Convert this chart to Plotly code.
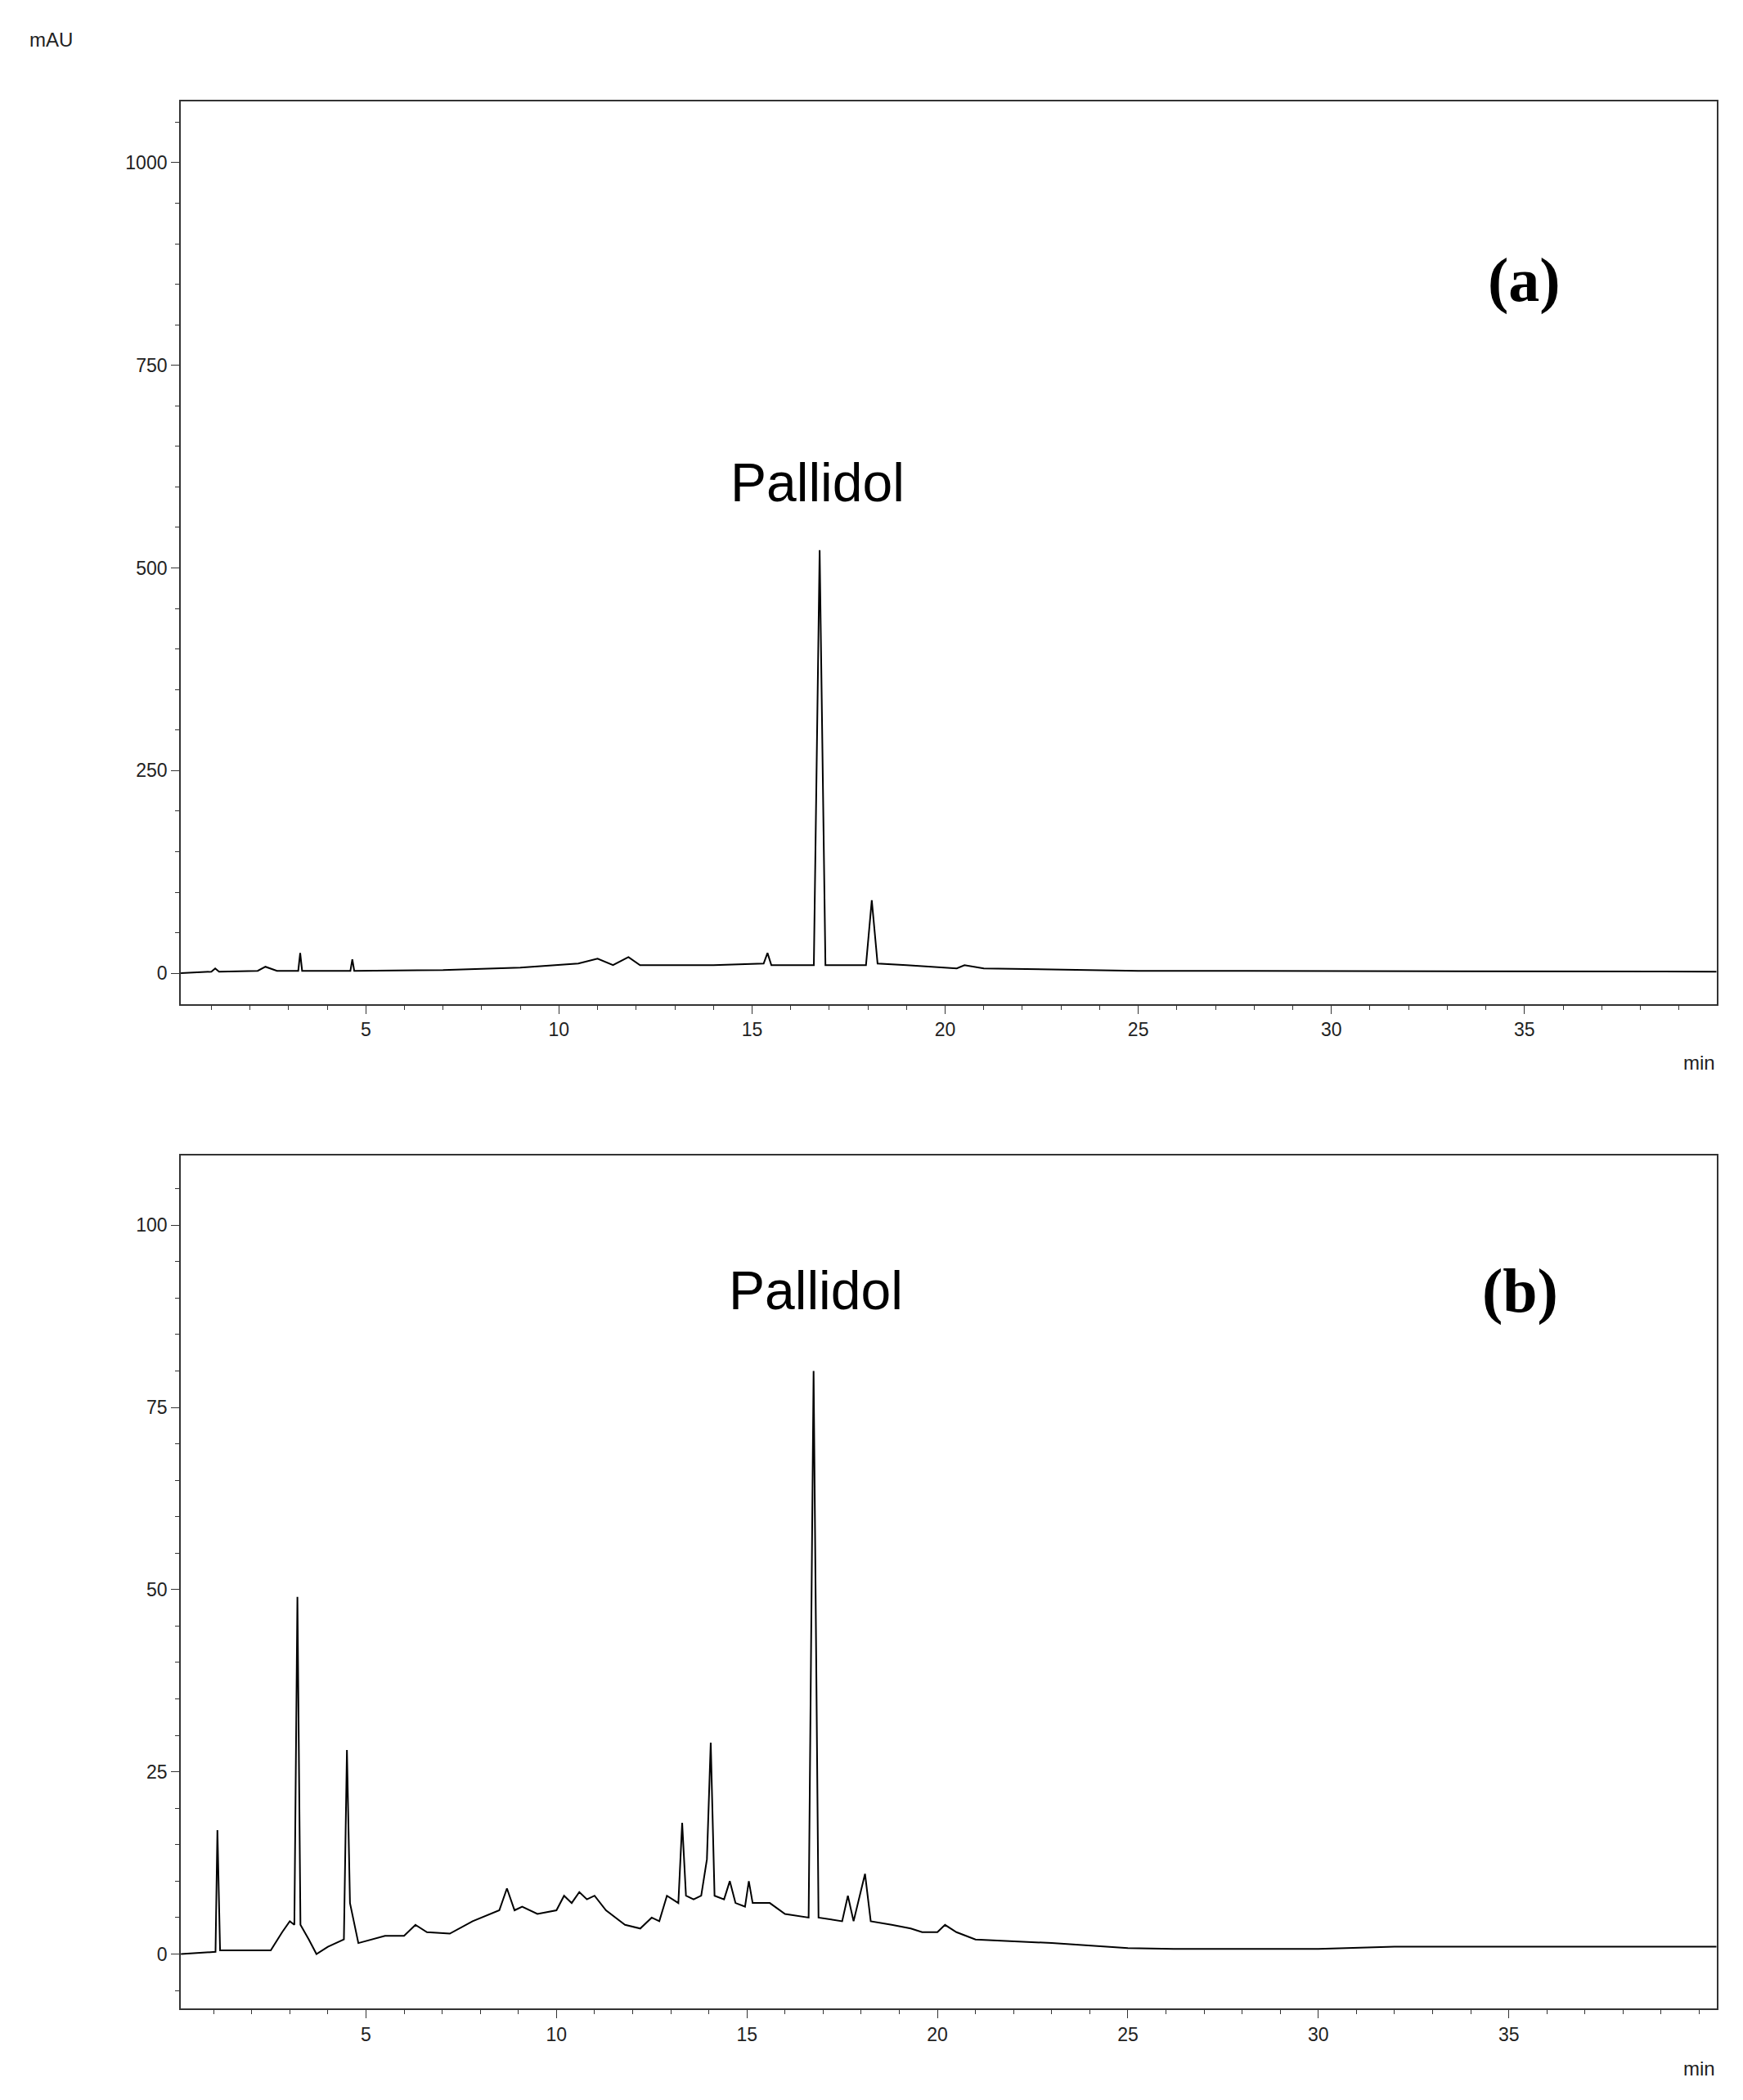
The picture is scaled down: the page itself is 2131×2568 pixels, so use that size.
import plotly.graph_objects as go

# panel (a): retention time (min) and absorbance (mAU)
time_a = [0.2, 1.0, 1.1, 1.2, 2.2, 2.4, 2.7, 3.25, 3.3, 3.35, 4.6, 4.65, 4.7, 7.0, 9.0,
          10.5, 11.0, 11.4, 11.8, 12.1, 14.0, 15.3, 15.4, 15.5, 16.6, 16.75, 16.9,
          17.95, 18.1, 18.25, 19.0, 20.3, 20.5, 21.0, 25.0, 40.0]
mau_a = [0, 2, 6, 2, 3, 8, 3, 3, 25, 3, 3, 17, 3, 4, 7,
         12, 18, 10, 20, 10, 10, 12, 25, 10, 10, 522, 10,
         10, 90, 12, 10, 6, 10, 6, 3, 2]

# panel (b)
time_b = [0.14, 1.05, 1.1, 1.17, 2.5, 2.8, 3.0, 3.12, 3.2, 3.28, 3.5, 3.7, 4.0, 4.42, 4.5,
          4.58, 4.8, 5.5, 6.0, 6.3, 6.6, 7.2, 7.8, 8.5, 8.7, 8.9, 9.1, 9.5, 10.0, 10.2,
          10.4, 10.6, 10.8, 11.0, 11.3, 11.8, 12.2, 12.5, 12.7, 12.9, 13.2, 13.3, 13.4,
          13.6, 13.8, 13.95, 14.05, 14.15, 14.4, 14.55, 14.7, 14.95, 15.05, 15.15, 15.6,
          16.0, 16.62, 16.75, 16.88, 17.5, 17.65, 17.8, 18.1, 18.25, 18.8, 19.3, 19.6,
          20.0, 20.2, 20.5, 21.0, 23.0, 25.0, 26.2, 30.0, 32.0, 35.7, 40.5]
mau_b = [0, 0.3, 17, 0.5, 0.5, 3, 4.5, 4, 49, 4, 2, 0, 1, 2, 28,
         7, 1.5, 2.5, 2.5, 4, 3, 2.8, 4.5, 6, 9, 6, 6.5, 5.5, 6, 8,
         7, 8.5, 7.5, 8, 6, 4, 3.5, 5, 4.5, 8, 7, 18, 8,
         7.5, 8, 13, 29, 8, 7.5, 10, 7, 6.5, 10, 7, 7,
         5.5, 5, 80, 5, 4.5, 8, 4.5, 11, 4.5, 4, 3.5, 3,
         3, 4, 3, 2, 1.5, 0.8, 0.7, 0.7, 1, 1, 1]

x_ticks = [5, 10, 15, 20, 25, 30, 35]

fig = go.Figure()
fig.add_trace(go.Scatter(x=time_a, y=mau_a, mode="lines", line=dict(color="black", width=2),
                         xaxis="x", yaxis="y", showlegend=False))
fig.add_trace(go.Scatter(x=time_b, y=mau_b, mode="lines", line=dict(color="black", width=2),
                         xaxis="x2", yaxis="y2", showlegend=False))

tickfont = dict(family="Liberation Sans", size=23, color="#222")
common = dict(showline=True, linecolor="#333", linewidth=2, mirror=True, showgrid=False,
              zeroline=False, ticks="outside", ticklen=10, tickcolor="#333", tickfont=tickfont)

fig.update_layout(
    width=2131, height=2568, paper_bgcolor="white", plot_bgcolor="white",
    margin=dict(l=0, r=0, t=0, b=0),
    xaxis=dict(domain=[0.1, 0.981], range=[0.21, 39.97], tickvals=x_ticks, anchor="y",
               minor=dict(dtick=1, ticks="outside", ticklen=5, tickcolor="#333"), **common),
    yaxis=dict(domain=[0.525, 0.955], range=[-38, 1076], dtick=250, anchor="x",
               minor=dict(dtick=50, ticks="outside", ticklen=5, tickcolor="#333"), **common),
    xaxis2=dict(domain=[0.1, 0.981], range=[0.14, 40.45], tickvals=x_ticks, anchor="y2",
                minor=dict(dtick=1, ticks="outside", ticklen=5, tickcolor="#333"), **common),
    yaxis2=dict(domain=[0.0466, 0.453], range=[-7.5, 109.6], dtick=25, anchor="x2",
                minor=dict(dtick=5, ticks="outside", ticklen=5, tickcolor="#333"), **common),
)

small = dict(family="Liberation Sans", size=24, color="#222")
fig.add_annotation(x=0.012, y=0.978, xref="paper", yref="paper", text="mAU", showarrow=False,
                   xanchor="left", yanchor="bottom", font=small)
fig.add_annotation(x=0.981, y=0.497, xref="paper", yref="paper", text="min", showarrow=False,
                   xanchor="right", yanchor="middle", font=small)
fig.add_annotation(x=0.981, y=0.018, xref="paper", yref="paper", text="min", showarrow=False,
                   xanchor="right", yanchor="middle", font=small)

big = dict(family="Liberation Sans", size=66, color="black")
fig.add_annotation(x=16.7, y=605, xref="x", yref="y", text="Pallidol", showarrow=False, font=big)
fig.add_annotation(x=16.8, y=91, xref="x2", yref="y2", text="Pallidol", showarrow=False, font=big)

lab = dict(family="Liberation Serif", size=76, color="black")
fig.add_annotation(x=35.0, y=855, xref="x", yref="y", text="<b>(a)</b>", showarrow=False, font=lab)
fig.add_annotation(x=35.3, y=91, xref="x2", yref="y2", text="<b>(b)</b>", showarrow=False, font=lab)

fig.write_html("out.html")
